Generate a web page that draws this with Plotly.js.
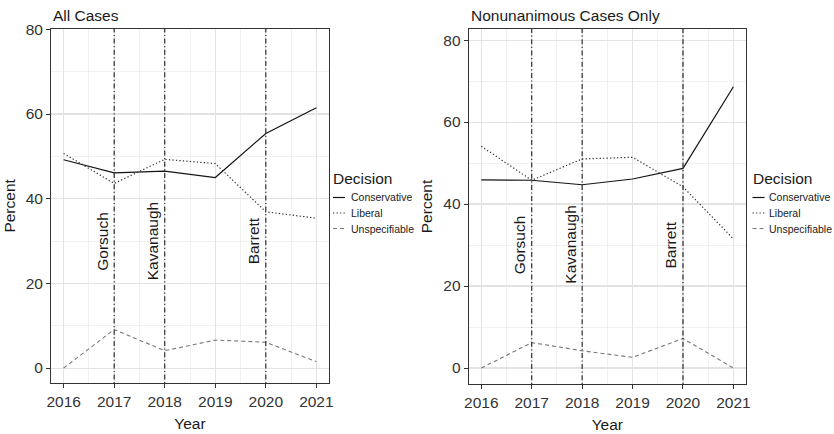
<!DOCTYPE html>
<html>
<head>
<meta charset="utf-8">
<script src="https://cdn.plot.ly/plotly-3.0.1.min.js"></script>
<style>html,body{margin:0;padding:0;background:#fff;}#chart{width:834px;height:434px;}</style>
</head>
<body>
<div id="chart"></div>
<script>
// ---- data ----
const years = [2016, 2017, 2018, 2019, 2020, 2021];
const seriesNames = ['Conservative', 'Liberal', 'Unspecifiable'];
const allConservative = [49.2, 46.1, 46.5, 45.0, 55.4, 61.5];
const allLiberal = [50.7, 43.6, 49.3, 48.3, 36.9, 35.4];
const allUnspecifiable = [0.0, 9.1, 4.1, 6.6, 6.1, 1.5];
const nonConservative = [45.9, 45.8, 44.7, 46.1, 48.7, 68.6];
const nonLiberal = [54.1, 45.8, 51.0, 51.4, 44.2, 31.5];
const nonUnspecifiable = [0.0, 6.2, 4.2, 2.6, 7.2, 0.0];
const justiceYears = [2017, 2018, 2020];
const justiceNames = ['Gorsuch', 'Kavanaugh', 'Barrett'];
const yTickVals = [0, 20, 40, 60, 80];
const xTickVals = [2016, 2017, 2018, 2019, 2020, 2021];
const panelTitles = ['All Cases', 'Nonunanimous Cases Only'];
const legendTitle = 'Decision';
const xTitle = 'Year';
const yTitle = 'Percent';

// ---- styles ----
const W = 834, H = 434;
const FONT = '"Liberation Sans", Arial, Helvetica, sans-serif';
const seriesStyle = {
  Conservative: {color: '#141414', dash: 'solid', width: 1.2},
  Liberal: {color: '#333333', dash: '1.3px,2.2px', width: 1.2},
  Unspecifiable: {color: '#777777', dash: '4px,3px', width: 1.1}
};
const vlineStyle = {color: '#2e2e2e', width: 1.2, dash: '1.2px,2.5px,5px,2.5px'};

const panels = [
  {xa: 'x', ya: 'y', xkey: 'xaxis', ykey: 'yaxis', data: [allConservative, allLiberal, allUnspecifiable],
   xpx: [51, 329], ypx: [28.5, 383.3], yrange: [-3.6, 80.2], legendX: 333, legendTextX: 350},
  {xa: 'x2', ya: 'y2', xkey: 'xaxis2', ykey: 'yaxis2', data: [nonConservative, nonLiberal, nonUnspecifiable],
   xpx: [468.7, 746], ypx: [29, 384], yrange: [-3.9, 82.7], legendX: 752.5, legendTextX: 768}
];

const traces = [];
const shapes = [];
const annotations = [];
const layout = {
  width: W, height: H,
  margin: {l: 0, r: 0, t: 0, b: 0},
  paper_bgcolor: '#ffffff', plot_bgcolor: '#ffffff',
  font: {family: FONT, size: 15.5, color: '#1a1a1a'},
  showlegend: false,
  shapes: shapes, annotations: annotations
};

panels.forEach((p, pi) => {
  p.data.forEach((vals, si) => {
    const name = seriesNames[si];
    const st = seriesStyle[name];
    traces.push({
      type: 'scatter', mode: 'lines', name: name,
      x: years, y: vals, xaxis: p.xa, yaxis: p.ya,
      line: {color: st.color, dash: st.dash, width: st.width},
      showlegend: false, hoverinfo: 'x+y+name'
    });
  });

  const axCommon = {
    showline: true, mirror: true, linecolor: '#333333', linewidth: 1,
    ticks: 'outside', ticklen: 4, tickwidth: 1, tickcolor: '#333333',
    showgrid: true, gridcolor: '#e3e3e3', gridwidth: 1.1,
    zeroline: false,
    tickfont: {family: FONT, size: 15.5, color: '#333333'},
    fixedrange: true
  };
  layout[p.xkey] = Object.assign({}, axCommon, {
    domain: [p.xpx[0] / W, p.xpx[1] / W],
    range: [2015.75, 2021.25],
    tickvals: xTickVals, ticktext: xTickVals.map(String),
    minor: {dtick: 0.5, tick0: 2015.5, showgrid: true, gridcolor: '#ededed', gridwidth: 0.8, ticks: ''},
    anchor: p.ya,
    title: {text: xTitle, font: {family: FONT, size: 15.5, color: '#1a1a1a'}, standoff: 9}
  });
  layout[p.ykey] = Object.assign({}, axCommon, {
    domain: [1 - p.ypx[1] / H, 1 - p.ypx[0] / H],
    range: p.yrange,
    tickvals: yTickVals, ticktext: yTickVals.map(String),
    minor: {dtick: 10, tick0: 0, showgrid: true, gridcolor: '#ededed', gridwidth: 0.8, ticks: ''},
    anchor: p.xa,
    title: {text: yTitle, font: {family: FONT, size: 15.5, color: '#1a1a1a'}, standoff: 6}
  });

  // appointment lines and labels
  justiceYears.forEach((yr, ji) => {
    shapes.push({
      type: 'line', xref: p.xa, yref: p.ya + ' domain',
      x0: yr, x1: yr, y0: 0, y1: 1,
      line: vlineStyle, layer: 'above'
    });
    annotations.push({
      xref: p.xa, yref: p.ya, x: yr, y: 30,
      xanchor: 'right', yanchor: 'middle', xshift: -2,
      text: justiceNames[ji], textangle: -90, showarrow: false,
      font: {family: FONT, size: 15.5, color: '#1a1a1a'}
    });
  });

  // panel title
  annotations.push({
    xref: 'paper', yref: 'paper', x: p.xpx[0] / W, y: 1 - 15 / H,
    xanchor: 'left', yanchor: 'middle', showarrow: false,
    text: panelTitles[pi], font: {family: FONT, size: 15.5, color: '#1a1a1a'}
  });

  // legend (title + keys)
  annotations.push({
    xref: 'paper', yref: 'paper', x: (p.legendX - 2) / W, y: 1 - 178 / H,
    xanchor: 'left', yanchor: 'middle', showarrow: false,
    text: legendTitle, font: {family: FONT, size: 15.5, color: '#1a1a1a'}
  });
  const itemY = [197.5, 213, 228.5];
  seriesNames.forEach((name, si) => {
    const st = seriesStyle[name];
    shapes.push({
      type: 'line', xref: 'paper', yref: 'paper',
      x0: p.legendX / W, x1: (p.legendX + 12) / W,
      y0: 1 - itemY[si] / H, y1: 1 - itemY[si] / H,
      line: {color: st.color, dash: st.dash, width: st.width}
    });
    annotations.push({
      xref: 'paper', yref: 'paper', x: (p.legendTextX - 1) / W, y: 1 - itemY[si] / H,
      xanchor: 'left', yanchor: 'middle', showarrow: false,
      text: name, font: {family: FONT, size: 10.5, color: '#1a1a1a'}
    });
  });
});

Plotly.newPlot('chart', traces, layout, {displayModeBar: false, staticPlot: true});
</script>
</body>
</html>
